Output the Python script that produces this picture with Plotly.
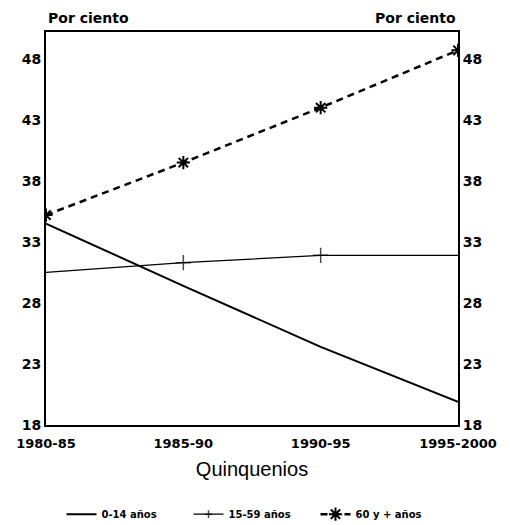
import plotly.graph_objects as go

quinquenios = ["1980-85", "1985-90", "1990-95", "1995-2000"]
edad_0_14 = [34.5, 29.4, 24.4, 19.9]
edad_15_59 = [30.5, 31.3, 31.9, 31.9]
edad_60_mas = [35.2, 39.5, 44.0, 48.7]
y_ticks = [18, 23, 28, 33, 38, 43, 48]

FONT = "DejaVu Sans"

fig = go.Figure()
fig.add_trace(go.Scatter(
    x=quinquenios, y=edad_0_14, name="0-14 años", mode="lines",
    line=dict(color="black", width=2),
))
fig.add_trace(go.Scatter(
    x=quinquenios, y=edad_15_59, name="15-59 años", mode="lines+markers",
    line=dict(color="black", width=1.3),
    marker=dict(symbol="cross-thin-open", size=[0, 11, 11, 0],
                line=dict(color="black", width=1.5), color="black"),
))
fig.add_trace(go.Scatter(
    x=quinquenios, y=edad_60_mas, name="60 y + años", mode="lines+markers",
    line=dict(color="black", width=2.5, dash="7px,5px"),
    marker=dict(symbol="asterisk-open", size=11,
                line=dict(color="black", width=2), color="black"),
))
# invisible trace for right axis
fig.add_trace(go.Scatter(
    x=quinquenios, y=edad_60_mas, yaxis="y2", showlegend=False,
    mode="lines", line=dict(width=0), hoverinfo="skip", opacity=0,
))

yrange = [18, 50.2]
fig.update_layout(
    width=510, height=525,
    margin=dict(l=46, r=52, t=32, b=100, autoexpand=False),
    paper_bgcolor="white", plot_bgcolor="white",
    font=dict(family=FONT, color="black"),
    showlegend=True,
    legend=dict(orientation="h", x=0.5, xanchor="center", y=-0.19, yanchor="top",
                font=dict(family=FONT, size=10, color="black", weight="bold"),
                itemwidth=30, entrywidth=82, tracegroupgap=0),
    xaxis=dict(
        type="category", range=[0, 3], showgrid=False, zeroline=False,
        showline=True, linecolor="black", linewidth=2, mirror=True,
        ticks="", tickfont=dict(family=FONT, size=13, weight="bold"),
        ticklabelstandoff=5, automargin=False,
        title=dict(text="Quinquenios", font=dict(family="Liberation Sans", size=20), standoff=12),
    ),
    yaxis=dict(
        range=yrange, tickvals=y_ticks, showgrid=False, zeroline=False,
        showline=True, linecolor="black", linewidth=2, automargin=False,
        ticks="", tickfont=dict(family=FONT, size=14, weight="bold"),
    ),
    yaxis2=dict(
        range=yrange, tickvals=y_ticks, overlaying="y", side="right",
        showgrid=False, zeroline=False, automargin=False,
        showline=True, linecolor="black", linewidth=2,
        ticks="", tickfont=dict(family=FONT, size=14, weight="bold"),
    ),
    annotations=[
        dict(text="Por ciento", xref="paper", yref="paper", x=0.0, y=1.0,
             xanchor="left", yanchor="bottom", showarrow=False, yshift=4,
             font=dict(family=FONT, size=14, weight="bold")),
        dict(text="Por ciento", xref="paper", yref="paper", x=1.0, y=1.0,
             xanchor="right", yanchor="bottom", showarrow=False, yshift=4,
             font=dict(family=FONT, size=14, weight="bold")),
    ],
)

fig.write_html("out.html", config={"displayModeBar": False},
               post_script="document.body.style.margin='0';")
